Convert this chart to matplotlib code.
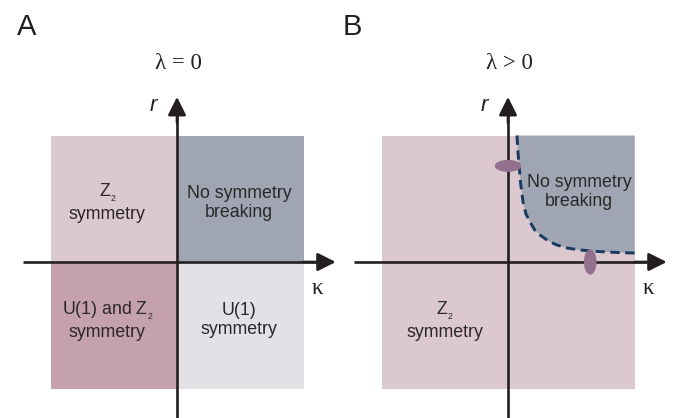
import matplotlib
matplotlib.use("Agg")
import matplotlib.pyplot as plt
from matplotlib.patches import Rectangle, Polygon, Ellipse

plt.rcParams['font.family'] = ['Liberation Sans', 'DejaVu Sans']
plt.rcParams['mathtext.fontset'] = 'custom'
plt.rcParams['mathtext.rm'] = 'Liberation Sans'

W, H = 673, 418
U = 126.5  # pixels per data unit (half side of a square)

# panel A quadrants: (x0, y0, colour, label)
quad_x = [-1, 0, -1, 0]
quad_y = [0, 0, -1, -1]
quad_colors = ['#dcc8cf', '#a0a5b3', '#c4a1ab', '#e3e1e6']
quad_labels = ['$\\mathregular{Z_{_2}}$\nsymmetry', 'No symmetry\nbreaking',
               'U(1) and $\\mathregular{Z_{_2}}$\nsymmetry', 'U(1)\nsymmetry']
label_x = [-0.55, 0.49, -0.55, 0.49]
label_y = [0.47, 0.47, -0.46, -0.46]

# panel B: phase boundary (dashed)
bound_k = [0.071, 0.078, 0.087, 0.100, 0.119, 0.142, 0.174, 0.210, 0.253,
           0.320, 0.387, 0.470, 0.569, 0.680, 0.783, 0.890, 1.0]
bound_r = [1.0, 0.88, 0.767, 0.62, 0.474, 0.38, 0.316, 0.255, 0.213,
           0.165, 0.134, 0.110, 0.095, 0.085, 0.079, 0.074, 0.071]
# critical points (ellipses): centre, width, height
crit_x = [0.0, 0.65]
crit_y = [0.76, 0.0]
crit_w = [0.21, 0.10]
crit_h = [0.095, 0.20]

AX_COL = '#231f20'
TXT_COL = '#2b2728'
ARROW = '-|>,head_length=1.1,head_width=0.55'


def panel(fig, cx, cy):
    ax = fig.add_axes([0, 0, 1, 1])
    ax.set_xlim(-cx / U, (W - cx) / U)
    ax.set_ylim(-(H - cy) / U, cy / U)
    ax.axis('off')
    ax.patch.set_alpha(0)
    return ax


def draw_axes(ax, title, letter, lx):
    ax.plot([0, 0], [-1.4, 1.2], color=AX_COL, lw=1.9, zorder=3,
            solid_capstyle='butt')
    ax.annotate('', xy=(0, 1.305), xytext=(0, 1.1),
                arrowprops=dict(arrowstyle=ARROW, lw=1.9, color=AX_COL,
                                shrinkA=0, shrinkB=0, mutation_scale=10),
                zorder=3)
    ax.plot([-1.22, 1.1], [0, 0], color=AX_COL, lw=1.9, zorder=3,
            solid_capstyle='butt')
    ax.annotate('', xy=(1.255, 0), xytext=(1.0, 0),
                arrowprops=dict(arrowstyle=ARROW, lw=1.9, color=AX_COL,
                                shrinkA=0, shrinkB=0, mutation_scale=10),
                zorder=3)
    ax.text(0.01, 1.57, title, family='Liberation Serif', fontsize=16.5,
            ha='center', va='center', color=AX_COL)
    ax.text(-0.19, 1.24, 'r', style='italic', fontsize=16,
            ha='center', va='center', color=AX_COL)
    ax.text(1.11, -0.21, 'κ', family='Liberation Serif', fontsize=16.5,
            ha='center', va='center', color=AX_COL)
    ax.text(lx, 1.86, letter, fontsize=21, ha='center', va='center',
            color=AX_COL)


fig = plt.figure(figsize=(W / 100, H / 100), dpi=100)

# --- panel A
axA = panel(fig, 177, 262)
for x0, y0, c in zip(quad_x, quad_y, quad_colors):
    axA.add_patch(Rectangle((x0, y0), 1, 1, facecolor=c, edgecolor='none',
                            zorder=1))
for tx, ty, s in zip(label_x, label_y, quad_labels):
    axA.text(tx, ty, s, fontsize=12.8, ha='center', va='center',
             color=TXT_COL, linespacing=1.15, zorder=2)
draw_axes(axA, 'λ = 0', 'A', -1.19)

# --- panel B
axB = panel(fig, 508, 262)
axB.add_patch(Rectangle((-1, -1), 2, 2, facecolor=quad_colors[0],
                        edgecolor='none', zorder=1))
poly = list(zip(bound_k, bound_r)) + [(1.0, 1.0)]
axB.add_patch(Polygon(poly, closed=True, facecolor=quad_colors[1],
                      edgecolor='none', zorder=1.5))
axB.plot(bound_k, bound_r, color='#173a5e', lw=2.1,
         linestyle=(0, (3.2, 1.9)), zorder=2)
axB.text(0.56, 0.55, 'No symmetry\nbreaking', fontsize=12.8, ha='center',
         va='center', color=TXT_COL, linespacing=1.15, zorder=2)
axB.text(-0.50, -0.46, '$\\mathregular{Z_{_2}}$\nsymmetry', fontsize=12.8,
         ha='center', va='center', color=TXT_COL, linespacing=1.15, zorder=2)
draw_axes(axB, 'λ > 0', 'B', -1.23)
for ex, ey, ew, eh in zip(crit_x, crit_y, crit_w, crit_h):
    axB.add_patch(Ellipse((ex, ey), ew, eh, facecolor='#94708f',
                          edgecolor='none', zorder=4))

fig.savefig('out.png', dpi=100)
